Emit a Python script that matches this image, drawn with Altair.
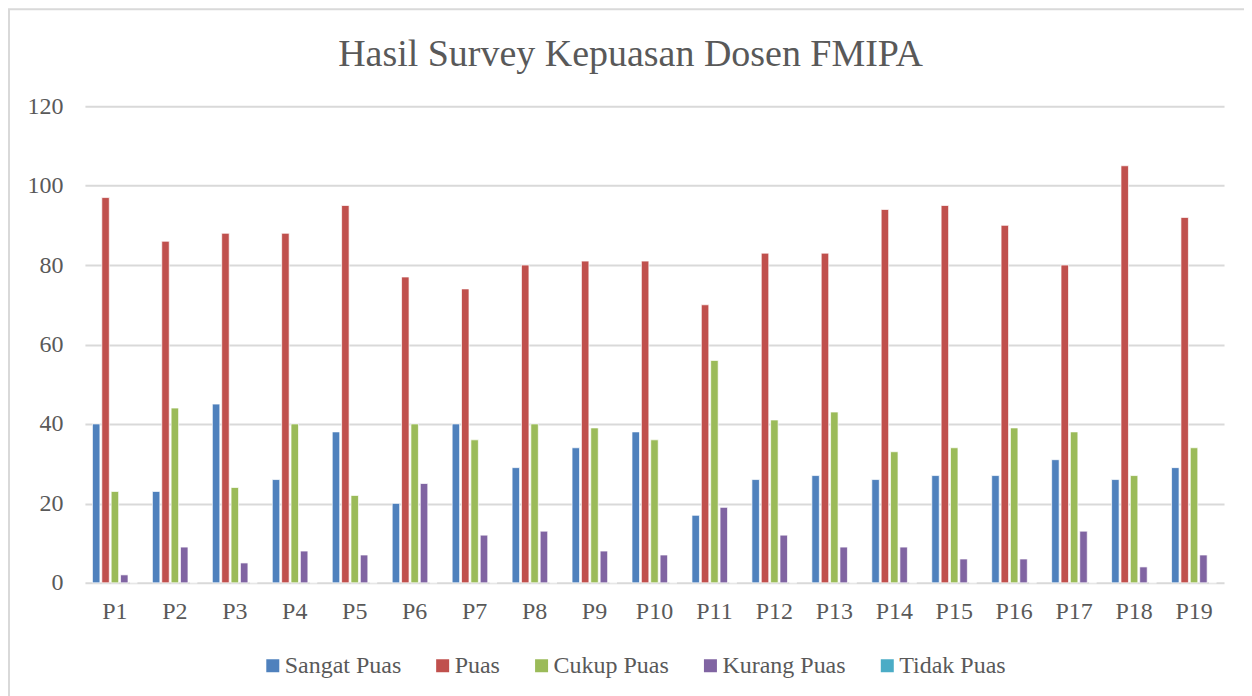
import altair as alt
import pandas as pd

categories = [f"P{i}" for i in range(1, 20)]
series = ["Sangat Puas", "Puas", "Cukup Puas", "Kurang Puas", "Tidak Puas"]
sangat_puas = [40, 23, 45, 26, 38, 20, 40, 29, 34, 38, 17, 26, 27, 26, 27, 27, 31, 26, 29]
puas = [97, 86, 88, 88, 95, 77, 74, 80, 81, 81, 70, 83, 83, 94, 95, 90, 80, 105, 92]
cukup_puas = [23, 44, 24, 40, 22, 40, 36, 40, 39, 36, 56, 41, 43, 33, 34, 39, 38, 27, 34]
kurang_puas = [2, 9, 5, 8, 7, 25, 12, 13, 8, 7, 19, 12, 9, 9, 6, 6, 13, 4, 7]
tidak_puas = [0] * 19
colors = ["#4F81BD", "#C0504D", "#9BBB59", "#8064A2", "#4BACC6"]

rows = []
for s, vals in zip(series, [sangat_puas, puas, cukup_puas, kurang_puas, tidak_puas]):
    for c, v in zip(categories, vals):
        rows.append({"Pertanyaan": c, "Kategori": s, "Nilai": v})
df = pd.DataFrame(rows)

FONT = "Liberation Serif"
TXT = "#595959"

bars = alt.Chart(df).mark_bar(stroke="white", strokeWidth=1, strokeOpacity=0.7).encode(
    x=alt.X("Pertanyaan:N", sort=categories,
            scale=alt.Scale(paddingInner=0.25, paddingOuter=0.125),
            axis=alt.Axis(title=None, labelAngle=0, ticks=False, domain=False,
                          labelFont=FONT, labelFontSize=24, labelColor=TXT, labelPadding=17)),
    xOffset=alt.XOffset("Kategori:N", sort=series, scale=alt.Scale(paddingInner=0.2)),
    y=alt.Y("Nilai:Q", scale=alt.Scale(domain=[0, 120]),
            axis=alt.Axis(title=None, values=[0, 20, 40, 60, 80, 100, 120], ticks=False, domain=False,
                          grid=True, gridColor="#D9D9D9", gridWidth=2,
                          labelFont=FONT, labelFontSize=24, labelColor=TXT, labelPadding=22)),
    color=alt.Color("Kategori:N", sort=series,
                    scale=alt.Scale(domain=series, range=colors),
                    legend=alt.Legend(title=None, orient="none", direction="horizontal",
                                      legendX=176, legendY=548, padding=0,
                                      symbolType="square", symbolSize=169, symbolStrokeWidth=0,
                                      labelFont=FONT, labelFontSize=24, labelColor=TXT,
                                      columnPadding=29, labelOffset=0)),
)

border = alt.Chart(pd.DataFrame({"b": [0]})).mark_rect(
    fill=None, stroke="#D9D9D9", strokeWidth=2, clip=False
).encode(x=alt.value(-76), x2=alt.value(1180), y=alt.value(-97), y2=alt.value(640))

chart = alt.layer(border, bars).properties(
    width=1140, height=477,
    title=alt.Title("Hasil Survey Kepuasan Dosen FMIPA", font=FONT, fontSize=38,
                    fontWeight="normal", color=TXT, offset=-66, dx=-24, anchor="middle"),
    padding={"left": 77, "top": 98, "right": 20, "bottom": 115},
    autosize=alt.AutoSizeParams(type="none"),
).configure_view(stroke=None)

chart.save("out.html", embed_options={"renderer": "svg", "actions": False})
